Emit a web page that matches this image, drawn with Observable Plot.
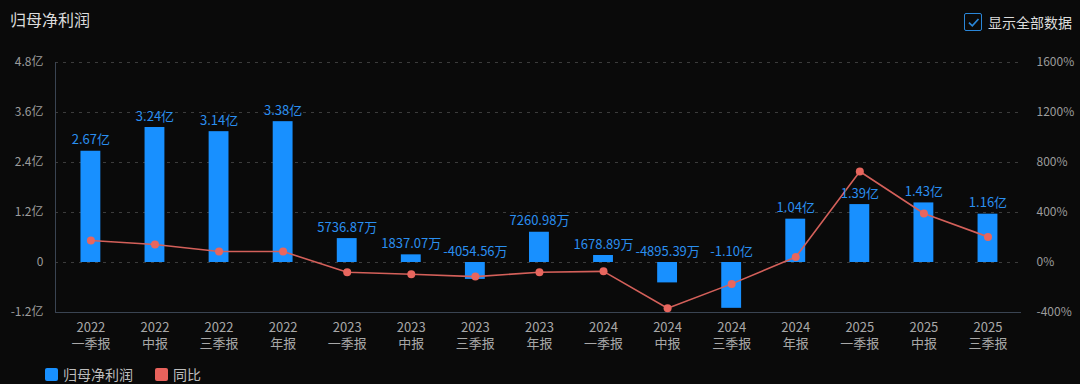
<!DOCTYPE html>
<html>
<head>
<meta charset="utf-8">
<script src="https://cdn.jsdelivr.net/npm/d3@7"></script>
<script src="https://cdn.jsdelivr.net/npm/@observablehq/plot@0.6"></script>
<style>
  body { margin: 0; background: #0a0a0a; font-family: "Noto Sans CJK SC", "Noto Sans", sans-serif; }
  #wrap { position: relative; width: 1080px; height: 384px; overflow: hidden; background: #0a0a0a; }
  #title { position: absolute; left: 10px; top: 8px; font-size: 16px; color: #dcdcdc; line-height: 22px; }
  #toggle { position: absolute; right: 8px; top: 12px; display: flex; align-items: center; font-size: 14px; color: #dcdcdc; line-height: 20px; }
  #toggle .box { width: 18px; height: 18px; border: 1.5px solid #2a86d8; border-radius: 2px; margin-right: 6px; box-sizing: border-box; display: flex; align-items: center; justify-content: center; }
  #chart { position: absolute; left: 0; top: 40px; }
  #legend { position: absolute; left: 45px; top: 366px; display: flex; align-items: center; font-size: 14px; color: #bdbdbd; line-height: 16px; }
  #legend .sw { width: 13px; height: 13px; border-radius: 2px; margin-right: 5px; }
  #legend .item { display: flex; align-items: center; margin-right: 22px; }
</style>
</head>
<body>
<div id="wrap">
  <div id="title">归母净利润</div>
  <div id="toggle"><div class="box"><svg width="13" height="13" viewBox="0 0 12 12"><path d="M1.8 6.2 L4.9 9.1 L10.6 2.8" fill="none" stroke="#2a86d8" stroke-width="1.6"/></svg></div>显示全部数据</div>
  <div id="chart"></div>
  <div id="legend">
    <div class="item"><div class="sw" style="background:#1890ff"></div>归母净利润</div>
    <div class="item"><div class="sw" style="background:#e8625c"></div>同比</div>
  </div>
</div>
<script>
// ---- data ----
const years = ["2022","2022","2022","2022","2023","2023","2023","2023","2024","2024","2024","2024","2025","2025","2025"];
const periodsName = ["一季报","中报","三季报","年报","一季报","中报","三季报","年报","一季报","中报","三季报","年报","一季报","中报","三季报"];
// 归母净利润 (亿)
const profit = [2.67, 3.24, 3.14, 3.38, 0.573687, 0.183707, -0.405456, 0.726098, 0.167889, -0.489539, -1.10, 1.04, 1.39, 1.43, 1.16];
const profitLabels = ["2.67亿","3.24亿","3.14亿","3.38亿","5736.87万","1837.07万","-4054.56万","7260.98万","1678.89万","-4895.39万","-1.10亿","1.04亿","1.39亿","1.43亿","1.16亿"];
// 同比 (%)
const yoy = [176, 144, 88, 88, -78.5, -94.3, -112.9, -78.5, -70.7, -366, -171, 43.2, 728, 392, 205];
const leftTicks = [-1.2, 0, 1.2, 2.4, 3.6, 4.8];
const leftTickLabels = ["-1.2亿", "0", "1.2亿", "2.4亿", "3.6亿", "4.8亿"];
const rightTickLabels = ["-400%", "0%", "400%", "800%", "1200%", "1600%"];
const pctToYi = 1.2 / 400; // right axis mapping onto left scale

const cats = years.map((y, i) => y + "\n" + periodsName[i]);
const data = cats.map((c, i) => ({ c, v: profit[i], label: profitLabels[i], yoy: yoy[i] }));

const chart = Plot.plot({
  width: 1080,
  height: 320,
  marginTop: 22,
  marginBottom: 48,
  marginLeft: 55,
  marginRight: 60,
  style: { background: "transparent", color: "#a0a0a0", fontFamily: "'Noto Sans CJK SC', sans-serif", fontSize: "12px", overflow: "visible" },
  x: { type: "band", domain: cats, paddingInner: 0.69, paddingOuter: 0.375, align: 0.53, round: false },
  y: { domain: [-1.2, 4.8] },
  marks: [
    Plot.ruleY(leftTicks.filter(d => d > -1.2), { stroke: "#3c3c3c", strokeDasharray: "3,5" }),
    Plot.frame({ anchor: "left", stroke: "#3a4452" }),
    Plot.frame({ anchor: "bottom", stroke: "#3a4452" }),
    Plot.barY(data, { x: "c", y: "v", fill: "#1890ff" }),
    Plot.line(data, { x: "c", y: d => d.yoy * pctToYi, stroke: "#d4605a", strokeWidth: 1.6 }),
    Plot.dot(data, { x: "c", y: d => d.yoy * pctToYi, r: 4, fill: "#e8665e", stroke: "none" }),
    Plot.text(data, { x: "c", y: d => Math.max(d.v, 0), text: "label", dy: -11, fill: "#2a8ff0", fontSize: 13 }),
    Plot.axisY(leftTicks, { anchor: "left", tickSize: 0, tickPadding: 12, tickFormat: d => leftTickLabels[leftTicks.indexOf(d)], fill: "#9c9c9c", fontSize: 12, label: null }),
    Plot.axisY(leftTicks, { anchor: "right", tickSize: 0, tickPadding: 16, tickFormat: d => rightTickLabels[leftTicks.indexOf(d)], fill: "#9c9c9c", fontSize: 12, label: null }),
    Plot.axisX({ tickSize: 0, tickPadding: 8, fill: "#a8a8a8", fontSize: 13, lineHeight: 1.23, label: null })
  ]
});
document.getElementById("chart").appendChild(chart);
</script>
</body>
</html>
